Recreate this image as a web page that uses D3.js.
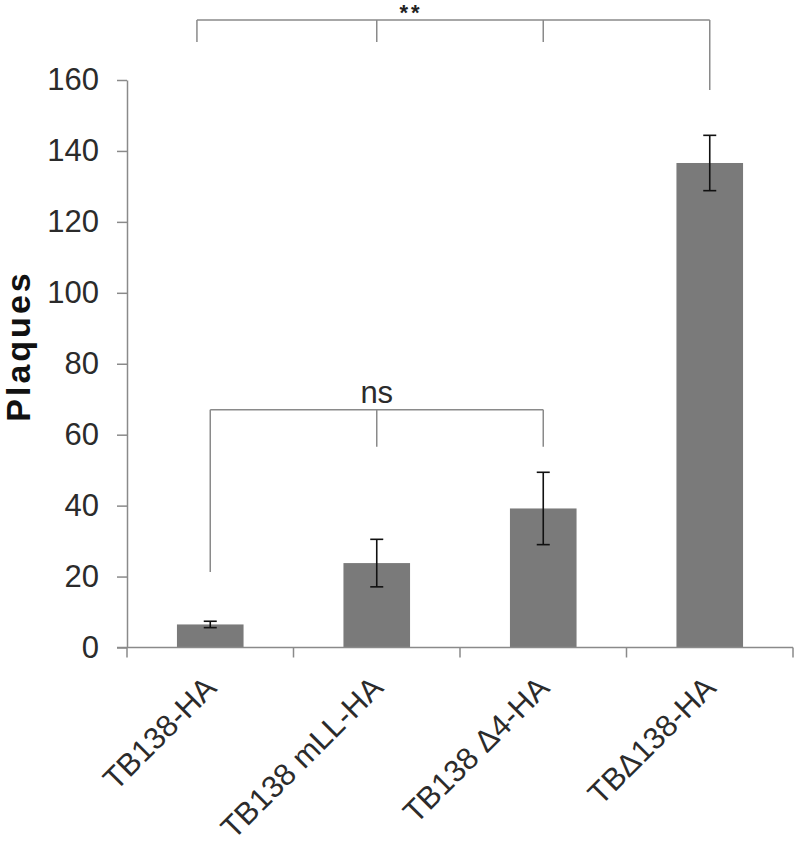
<!DOCTYPE html>
<html>
<head>
<meta charset="utf-8">
<script src="https://cdn.jsdelivr.net/npm/d3@7/dist/d3.min.js"></script>
<style>
  html, body { margin: 0; padding: 0; background: #fff; }
  svg { display: block; }
  text { font-family: "Liberation Sans", Arial, sans-serif; }
</style>
</head>
<body>
<svg id="chart" width="800" height="849"></svg>
<script>
// ---- data ----
const categories = ["TB138-HA", "TB138 mLL-HA", "TB138 \u03944-HA", "TB\u0394138-HA"];
const plaques = [6.5, 23.8, 39.2, 136.6];
const errors = [0.9, 6.7, 10.2, 7.8];
const yTicks = [0, 20, 40, 60, 80, 100, 120, 140, 160];
// significance brackets: positions in bar-index units, bracket level and drop-end levels (data units)
const bracketLabels = ["**", "ns"];
const bracketLevels = [176.9, 67.0];
const bracketPositions = [[-0.08, 1, 2, 3], [0, 1, 2]];
const bracketDrops = [[170.7, 170.7, 170.7, 157.2], [21.3, 56.6, 56.6]];
const bracketLabelPos = [1.2, 1];

// ---- layout ----
const svg = d3.select("#chart");
const plotLeft = 127, plotRight = 793, plotTop = 80, plotBottom = 647.5;

const x = d3.scaleBand().domain(categories).range([plotLeft, plotRight])
  .paddingInner(0.6).paddingOuter(0.3);
const y = d3.scaleLinear().domain([0, 160]).range([plotBottom, plotTop]);
const bw = x.bandwidth();
const step = x.step();
const posX = p => x(categories[0]) + bw / 2 + p * step;

const axisColor = "#8a8a8a";
const textColor = "#2b2b2b";
const fontSize = "31px";

// y axis
const yAxis = svg.append("g")
  .attr("transform", `translate(${plotLeft},0)`)
  .call(d3.axisLeft(y).tickValues(yTicks).tickSize(10).tickSizeOuter(0).tickPadding(18));
yAxis.select(".domain").attr("stroke", axisColor).attr("stroke-width", 1.5);
yAxis.selectAll(".tick line").attr("stroke", axisColor).attr("stroke-width", 1.5);
yAxis.selectAll(".tick text")
  .attr("fill", textColor)
  .style("font-size", fontSize)
  .style("font-family", "'Liberation Sans', Arial, sans-serif");

// bars
svg.append("g").selectAll("rect").data(categories).join("rect")
  .attr("x", d => x(d))
  .attr("y", (d, i) => y(plaques[i]))
  .attr("width", bw)
  .attr("height", (d, i) => y(0) - y(plaques[i]))
  .attr("fill", "#7a7a7a");

// x axis line and boundary ticks
svg.append("line")
  .attr("x1", plotLeft - 10).attr("x2", plotRight)
  .attr("y1", y(0)).attr("y2", y(0))
  .attr("stroke", axisColor).attr("stroke-width", 1.5);
const boundaries = [x(categories[0]) - step * x.paddingOuter()]
  .concat(categories.map(c => x(c) + bw + step * x.paddingInner() / 2));
boundaries[boundaries.length - 1] = x(categories[categories.length - 1]) + bw + step * x.paddingOuter();
svg.append("g").selectAll("line").data(boundaries).join("line")
  .attr("x1", d => d).attr("x2", d => d)
  .attr("y1", y(0)).attr("y2", y(0) + 10)
  .attr("stroke", axisColor).attr("stroke-width", 1.5);

// error bars
const eg = svg.append("g").attr("stroke", "#111").attr("stroke-width", 1.6);
categories.forEach((c, i) => {
  const cx = x(c) + bw / 2;
  const hi = y(plaques[i] + errors[i]), lo = y(plaques[i] - errors[i]);
  eg.append("line").attr("x1", cx).attr("x2", cx).attr("y1", hi).attr("y2", lo);
  eg.append("line").attr("x1", cx - 6.5).attr("x2", cx + 6.5).attr("y1", hi).attr("y2", hi);
  eg.append("line").attr("x1", cx - 6.5).attr("x2", cx + 6.5).attr("y1", lo).attr("y2", lo);
});

// x labels
svg.append("g").selectAll("text").data(categories).join("text")
  .attr("transform", d => `translate(${x(d) + bw / 2 + 8},${y(0) + 42}) rotate(-45)`)
  .attr("text-anchor", "end")
  .attr("fill", textColor)
  .style("font-size", fontSize)
  .text(d => d);

// y title
svg.append("text")
  .attr("transform", `translate(30,346) rotate(-90)`)
  .attr("text-anchor", "middle")
  .attr("fill", "#111")
  .style("font-size", "34px")
  .style("font-weight", "bold")
  .style("letter-spacing", "3px")
  .text("Plaques");

// brackets
const bg = svg.append("g").attr("stroke", axisColor).attr("stroke-width", 1.5).attr("fill", "none");
bracketPositions.forEach((ps, k) => {
  const xs = ps.map(posX);
  const ly = y(bracketLevels[k]);
  bg.append("line").attr("x1", xs[0]).attr("x2", xs[xs.length - 1]).attr("y1", ly).attr("y2", ly);
  xs.forEach((xx, j) => {
    bg.append("line").attr("x1", xx).attr("x2", xx).attr("y1", ly).attr("y2", y(bracketDrops[k][j]));
  });
});
// bracket labels
svg.append("text")
  .attr("x", posX(bracketLabelPos[0]) + 1).attr("y", y(bracketLevels[0]))
  .attr("text-anchor", "middle")
  .attr("fill", "#222")
  .style("font-size", "22px")
  .style("font-weight", "bold")
  .style("letter-spacing", "3px")
  .text(bracketLabels[0]);
svg.append("text")
  .attr("x", posX(bracketLabelPos[1])).attr("y", y(bracketLevels[1]) - 7)
  .attr("text-anchor", "middle")
  .attr("fill", textColor)
  .style("font-size", fontSize)
  .text(bracketLabels[1]);
</script>
</body>
</html>
